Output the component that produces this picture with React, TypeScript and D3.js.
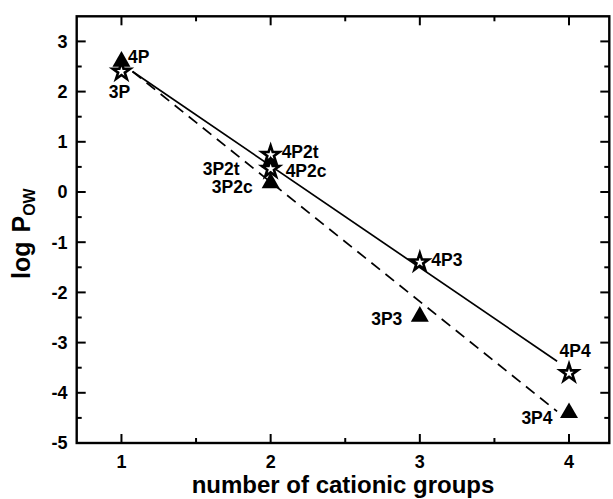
import React from "react";
import * as d3 from "d3";

const starX = [1, 2, 2, 3, 4];
const starY = [2.4, 0.74, 0.46, -1.4, -3.61];
const triX = [1, 2, 2, 3, 4];
const triY = [2.6, 0.58, 0.18, -2.48, -4.4];

const pointLabels = ["4P", "3P", "3P2t", "3P2c", "4P2t", "4P2c", "4P3", "3P3", "4P4", "3P4"];
const labelAnchorX = [1, 1, 2, 2, 2, 2, 3, 3, 4, 4];
const labelAnchorY = [2.6, 2.4, 0.58, 0.18, 0.74, 0.46, -1.4, -2.48, -3.61, -4.4];

const solidFitX = [1.074, 3.92];
const solidFitY = [2.4, -3.37];
const dashFitX = [1.074, 3.92];
const dashFitY = [2.4, -4.37];

const xTicks = [1, 2, 3, 4];
const xMinor = [1.5, 2.5, 3.5];
const yTicks = [-5, -4, -3, -2, -1, 0, 1, 2, 3];
const yMinor = [-4.5, -3.5, -2.5, -1.5, -0.5, 0.5, 1.5, 2.5];

// label layout (pixels): dx, dy, anchor
const labelLayout: [number, number, string][] = [
  [6.5, 1.5, "start"],
  [-2, 26, "middle"],
  [-31, 12.5, "end"],
  [-18, 10, "end"],
  [11, 3, "start"],
  [15, 8, "start"],
  [11.5, 3.5, "start"],
  [-17.5, 8.5, "end"],
  [-9.5, -16, "start"],
  [-16.5, 11.5, "end"],
];

const W = 613;
const H = 499;
const L = 76.7;
const R = 609.3;
const T = 16.3;
const B = 443;

export default function App() {
  const x = d3.scaleLinear().domain([0.7, 4.27]).range([L, R]);
  const y = d3.scaleLinear().domain([-5, 3.5]).range([B, T]);
  const star = d3.symbol().type(d3.symbolStar).size(95)();
  const tri = d3.symbol().type(d3.symbolTriangle).size(140)();
  const line = d3
    .line<[number, number]>()
    .x((d) => x(d[0]))
    .y((d) => y(d[1]));
  const solidPts = solidFitX.map((v, i) => [v, solidFitY[i]] as [number, number]);
  const dashPts = dashFitX.map((v, i) => [v, dashFitY[i]] as [number, number]);
  const font = "'Liberation Sans', Arial, Helvetica, sans-serif";
  const major = 9;
  const minor = 5;

  return (
    <svg
      width={W}
      height={H}
      style={{ position: "absolute", left: 0, top: 0, background: "#fff" }}
      fontFamily={font}
      fontWeight="bold"
    >
      <rect x={0} y={0} width={W} height={H} fill="#fff" />
      <path d={line(solidPts) || ""} fill="none" stroke="#000" strokeWidth={1.7} />
      <path
        d={line(dashPts) || ""}
        fill="none"
        stroke="#000"
        strokeWidth={1.7}
        strokeDasharray="11,7"
      />
      {triX.map((v, i) => (
        <path key={"t" + i} d={tri || ""} transform={`translate(${x(v)},${y(triY[i])})`} fill="#000" />
      ))}
      {starX.map((v, i) => (
        <path
          key={"s" + i}
          d={star || ""}
          transform={`translate(${x(v)},${y(starY[i])})`}
          fill="#fff"
          stroke="#000"
          strokeWidth={2.6}
          strokeLinejoin="miter"
        />
      ))}
      {pointLabels.map((t, i) => (
        <text
          key={"l" + i}
          x={x(labelAnchorX[i]) + labelLayout[i][0]}
          y={y(labelAnchorY[i]) + labelLayout[i][1]}
          textAnchor={labelAnchorAttr(labelLayout[i][2])}
          fontSize={17.5}
          fill="#000"
        >
          {t}
        </text>
      ))}
      <rect x={L} y={T} width={R - L} height={B - T} fill="none" stroke="#000" strokeWidth={2.4} />
      {xTicks.map((v) => (
        <g key={"xt" + v}>
          <line x1={x(v)} x2={x(v)} y1={B} y2={B - major} stroke="#000" strokeWidth={2} />
          <line x1={x(v)} x2={x(v)} y1={T} y2={T + major} stroke="#000" strokeWidth={2} />
          <text x={x(v)} y={468} textAnchor="middle" fontSize={18}>
            {v}
          </text>
        </g>
      ))}
      {xMinor.map((v) => (
        <g key={"xm" + v}>
          <line x1={x(v)} x2={x(v)} y1={B} y2={B - minor} stroke="#000" strokeWidth={2} />
          <line x1={x(v)} x2={x(v)} y1={T} y2={T + minor} stroke="#000" strokeWidth={2} />
        </g>
      ))}
      {yTicks.map((v) => (
        <g key={"yt" + v}>
          <line x1={L} x2={L + major} y1={y(v)} y2={y(v)} stroke="#000" strokeWidth={2} />
          <line x1={R} x2={R - major} y1={y(v)} y2={y(v)} stroke="#000" strokeWidth={2} />
          <text x={67.5} y={y(v) + 6.3} textAnchor="end" fontSize={18}>
            {v}
          </text>
        </g>
      ))}
      {yMinor.map((v) => (
        <g key={"ym" + v}>
          <line x1={L} x2={L + minor} y1={y(v)} y2={y(v)} stroke="#000" strokeWidth={2} />
          <line x1={R} x2={R - minor} y1={y(v)} y2={y(v)} stroke="#000" strokeWidth={2} />
        </g>
      ))}
      <text x={(L + R) / 2} y={493} textAnchor="middle" fontSize={24}>
        number of cationic groups
      </text>
      <text transform={`translate(30,${(T + B) / 2 + 4}) rotate(-90)`} textAnchor="middle" fontSize={25}>
        log<tspan dx={9}>P</tspan>
        <tspan fontSize={16} dy={5}>OW</tspan>
      </text>
    </svg>
  );
}

function labelAnchorAttr(a: string): "start" | "middle" | "end" {
  return a === "end" ? "end" : a === "middle" ? "middle" : "start";
}
